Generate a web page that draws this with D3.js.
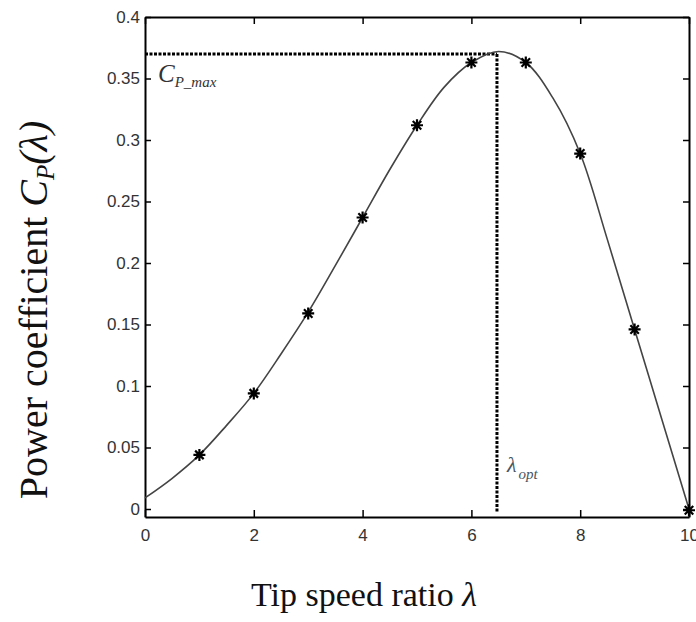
<!DOCTYPE html>
<html>
<head>
<meta charset="utf-8">
<script src="https://cdn.jsdelivr.net/npm/d3@7"></script>
<style>
  body { margin: 0; background: #fff; }
  svg { display: block; }
  .tick text { font-family: "Liberation Sans", Arial, sans-serif; font-size: 17px; fill: #333; }
  .frame path.domain { stroke: #000; stroke-width: 2; }
  .frame .tick line { stroke: #000; stroke-width: 1.5; }
</style>
</head>
<body>
<svg width="696" height="622"></svg>
<script>
// values
const xTicks = [0, 2, 4, 6, 8, 10];
const yTicks = [0, 0.05, 0.1, 0.15, 0.2, 0.25, 0.3, 0.35, 0.4];
const yTickLabels = ["0", "0.05", "0.1", "0.15", "0.2", "0.25", "0.3", "0.35", "0.4"];

const curveLambda = [0, 0.5, 1, 1.5, 2, 2.5, 3, 3.5, 4, 4.5, 5, 5.5, 6, 6.5, 7, 7.5, 8, 8.5, 9, 9.5, 10];
const curveCp = [0.009, 0.025, 0.044, 0.068, 0.094, 0.126, 0.160, 0.198, 0.237, 0.276, 0.312, 0.343, 0.363, 0.372, 0.363, 0.334, 0.289, 0.219, 0.146, 0.073, 0.0];

const markLambda = [1, 2, 3, 4, 5, 6, 7, 8, 9, 10];
const markCp = [0.044, 0.094, 0.159, 0.237, 0.312, 0.363, 0.363, 0.289, 0.146, -0.001];

const lambdaOpt = 6.47;
const cpMax = 0.370;

const svg = d3.select("svg");
const plotLeft = 145, plotRight = 689, plotTop = 17, plotBottom = 517;

const x = d3.scaleLinear().domain([0, 10]).range([plotLeft, plotRight]);
const y = d3.scaleLinear().domain([-0.0065, 0.4]).range([plotBottom, plotTop]);

// box with inward ticks on all four sides
const frame = svg.append("g").attr("class", "frame");
frame.append("g")
    .attr("transform", `translate(0,${plotBottom})`)
    .call(d3.axisBottom(x).tickValues(xTicks).tickSizeInner(-7).tickSizeOuter(0).tickPadding(12));
frame.append("g")
    .attr("transform", `translate(0,${plotTop})`)
    .call(d3.axisTop(x).tickValues(xTicks).tickSizeInner(-7).tickSizeOuter(0).tickFormat(""));
frame.append("g")
    .attr("transform", `translate(${plotLeft},0)`)
    .call(d3.axisLeft(y).tickValues(yTicks).tickSizeInner(-6).tickSizeOuter(0).tickPadding(5)
        .tickFormat((d, i) => yTickLabels[i]));
frame.append("g")
    .attr("transform", `translate(${plotRight},0)`)
    .call(d3.axisRight(y).tickValues(yTicks).tickSizeInner(-6).tickSizeOuter(0).tickFormat(""));

// dotted guide lines
svg.append("line")
    .attr("x1", x(0)).attr("x2", x(lambdaOpt))
    .attr("y1", y(cpMax)).attr("y2", y(cpMax))
    .attr("stroke", "#000").attr("stroke-width", 3).attr("stroke-dasharray", "3,1.5");
svg.append("line")
    .attr("x1", x(lambdaOpt)).attr("x2", x(lambdaOpt))
    .attr("y1", y(cpMax)).attr("y2", y(-0.002))
    .attr("stroke", "#000").attr("stroke-width", 3).attr("stroke-dasharray", "3,1.5");

// Cp curve
const line = d3.line()
    .x((d, i) => x(curveLambda[i]))
    .y(d => y(d))
    .curve(d3.curveCatmullRom);
svg.append("path")
    .attr("d", line(curveCp))
    .attr("fill", "none")
    .attr("stroke", "#444")
    .attr("stroke-width", 1.6);

// matlab style '*' marker
const star = {
    draw(ctx, size) {
        const r = Math.sqrt(size) / 2, s = r * 0.7071;
        ctx.moveTo(-r, 0); ctx.lineTo(r, 0);
        ctx.moveTo(0, -r); ctx.lineTo(0, r);
        ctx.moveTo(-s, -s); ctx.lineTo(s, s);
        ctx.moveTo(-s, s); ctx.lineTo(s, -s);
    }
};
svg.selectAll("path.mark")
    .data(markCp)
    .enter().append("path")
    .attr("class", "mark")
    .attr("transform", (d, i) => `translate(${x(markLambda[i])},${y(d)})`)
    .attr("d", d3.symbol().type(star).size(144))
    .attr("fill", "none")
    .attr("stroke", "#000")
    .attr("stroke-width", 2.2);

// annotations
const cpLab = svg.append("text")
    .attr("x", x(0) + 13).attr("y", y(0.3475))
    .attr("font-family", "'Liberation Serif', 'Times New Roman', serif")
    .attr("font-style", "italic")
    .attr("fill", "#333");
cpLab.append("tspan").attr("font-size", 25).text("C");
cpLab.append("tspan").attr("font-size", 15).attr("dy", 5).text("P_max");

const optLab = svg.append("text")
    .attr("x", x(lambdaOpt) + 10).attr("y", y(0.03))
    .attr("font-family", "'Liberation Serif', 'Times New Roman', serif")
    .attr("font-style", "italic")
    .attr("fill", "#4a5560");
optLab.append("tspan").attr("font-size", 22).text("λ");
optLab.append("tspan").attr("font-size", 15).attr("dx", 2).attr("dy", 7).text("opt");

// axis titles
svg.append("text")
    .attr("x", 251).attr("y", 606)
    .attr("font-family", "'Liberation Serif', 'Times New Roman', serif")
    .attr("font-size", 34)
    .attr("fill", "#111")
    .text("Tip speed ratio ")
    .append("tspan").attr("font-style", "italic").text("λ");

const yLab = svg.append("text")
    .attr("transform", "translate(47,310) rotate(-90)")
    .attr("text-anchor", "middle")
    .attr("font-family", "'Liberation Serif', 'Times New Roman', serif")
    .attr("font-size", 40)
    .attr("fill", "#111");
yLab.append("tspan").text("Power coefficient ");
yLab.append("tspan").attr("font-style", "italic").text("C");
yLab.append("tspan").attr("font-style", "italic").attr("font-size", 25).attr("dy", 7).text("P");
yLab.append("tspan").attr("font-style", "italic").attr("dy", -7).text("(λ)");
</script>
</body>
</html>
